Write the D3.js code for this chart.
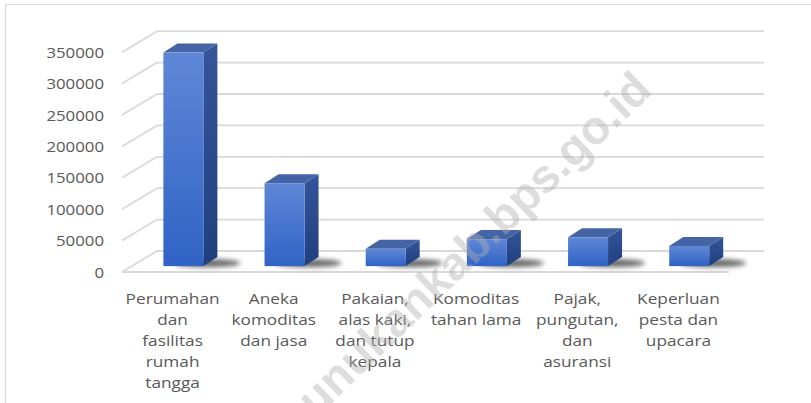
<!DOCTYPE html>
<html><head><meta charset="utf-8">
<script src="https://cdn.jsdelivr.net/npm/d3@7"></script>
<style>html,body{margin:0;padding:0;background:#fff;}svg{display:block;}</style>
</head><body>
<svg id="chart" width="811" height="403"></svg>
<script>
const categories = [
  "Perumahan\ndan\nfasilitas\nrumah\ntangga",
  "Aneka\nkomoditas\ndan jasa",
  "Pakaian,\nalas kaki,\ndan tutup\nkepala",
  "Komoditas\ntahan lama",
  "Pajak,\npungutan,\ndan\nasuransi",
  "Keperluan\npesta dan\nupacara"
];
const values = [340000, 132000, 27500, 43000, 46000, 32000];
const yTicks = [0, 50000, 100000, 150000, 200000, 250000, 300000, 350000];
const watermark = "nunukankab.bps.go.id";

const svg = d3.select("#chart");
const X0 = 122, X1 = 729, DX = 35, DY = 21;
const F = 0.28, BDX = 14, BDY = 9, BW = 40;
const y = d3.scaleLinear().domain([0, 350000]).range([272, 52.2]);
const x = d3.scaleBand().domain(categories).range([X0, X1]);

// border
svg.append("rect").attr("x", 5.5).attr("y", 4.5).attr("width", 1000).attr("height", 1000)
  .attr("fill", "none").attr("stroke", "#d9d9d9").attr("stroke-width", 1.2);

const defs = svg.append("defs");
defs.append("filter").attr("id", "blur").attr("x", "-50%").attr("y", "-200%").attr("width", "200%").attr("height", "500%")
  .append("feGaussianBlur").attr("stdDeviation", 2.8);
const gF = defs.append("linearGradient").attr("id", "gFront").attr("x1", 0).attr("y1", 0).attr("x2", 0).attr("y2", 1);
gF.append("stop").attr("offset", 0).attr("stop-color", "#5f87d6");
gF.append("stop").attr("offset", 1).attr("stop-color", "#3063c6");
const gS = defs.append("linearGradient").attr("id", "gSide").attr("x1", 0).attr("y1", 0).attr("x2", 0).attr("y2", 1);
gS.append("stop").attr("offset", 0).attr("stop-color", "#34559a");
gS.append("stop").attr("offset", 1).attr("stop-color", "#203f80");

// grid: back wall lines and left wall diagonals
const grid = svg.append("g").attr("stroke", "#d9d9d9").attr("stroke-width", 1.8).attr("fill", "none");
yTicks.forEach(t => {
  grid.append("line").attr("x1", X0 + DX).attr("x2", X1 + DX).attr("y1", y(t) - DY).attr("y2", y(t) - DY);
  grid.append("line").attr("x1", X0).attr("y1", y(t)).attr("x2", X0 + DX).attr("y2", y(t) - DY);
});
// floor front edge
grid.append("line").attr("x1", X0).attr("x2", X1).attr("y1", y(0)).attr("y2", y(0));

// y tick labels
const axisFont = "'Open Sans', sans-serif";
svg.append("g").selectAll("text").data(yTicks).join("text")
  .attr("transform", d => `translate(104,${y(d)}) scale(1.12,1)`)
  .attr("text-anchor", "end").attr("dominant-baseline", "central")
  .attr("font-family", axisFont).attr("font-size", 15).attr("fill", "#595959")
  .text(d => d);

// bars
const bars = svg.append("g");
categories.forEach((c, i) => {
  const v = values[i];
  const xl = x(c) + x.bandwidth() / 2 - BW / 2 + F * DX + 1;
  const xr = xl + BW;
  const yb = y(0) - F * DY;
  const yt = y(v) - F * DY;
  // shadow
  bars.append("ellipse").attr("cx", xr + 4).attr("cy", yb - 3).attr("rx", 33).attr("ry", 4)
    .attr("fill", "#000").attr("opacity", 0.6).attr("filter", "url(#blur)");
  // side
  bars.append("path").attr("d", `M${xr},${yt}L${xr + BDX},${yt - BDY}L${xr + BDX},${yb - BDY}L${xr},${yb}Z`)
    .attr("fill", "url(#gSide)");
  // top
  bars.append("path").attr("d", `M${xl},${yt}L${xl + BDX},${yt - BDY}L${xr + BDX},${yt - BDY}L${xr},${yt}Z`)
    .attr("fill", "#4564a6");
  // front
  bars.append("rect").attr("x", xl).attr("y", yt).attr("width", BW).attr("height", yb - yt)
    .attr("fill", "url(#gFront)");
});

// category labels
const lab = svg.append("g");
categories.forEach(c => {
  const cx = x(c) + x.bandwidth() / 2;
  c.split("\n").forEach((line, j) => {
    lab.append("text")
      .attr("transform", `translate(${cx},${298 + j * 21}) scale(1.15,1)`)
      .attr("text-anchor", "middle").attr("dominant-baseline", "central")
      .attr("font-family", axisFont).attr("font-size", 15).attr("fill", "#595959")
      .text(line);
  });
});

// watermark
svg.append("text")
  .attr("transform", "translate(654,92) rotate(-44)")
  .attr("text-anchor", "end")
  .attr("font-family", "'Liberation Sans', Arial, sans-serif").attr("font-weight", "bold")
  .attr("font-size", 47).attr("fill", "#b0b0b0").attr("opacity", 0.42)
  .text(watermark);
</script>
</body></html>
